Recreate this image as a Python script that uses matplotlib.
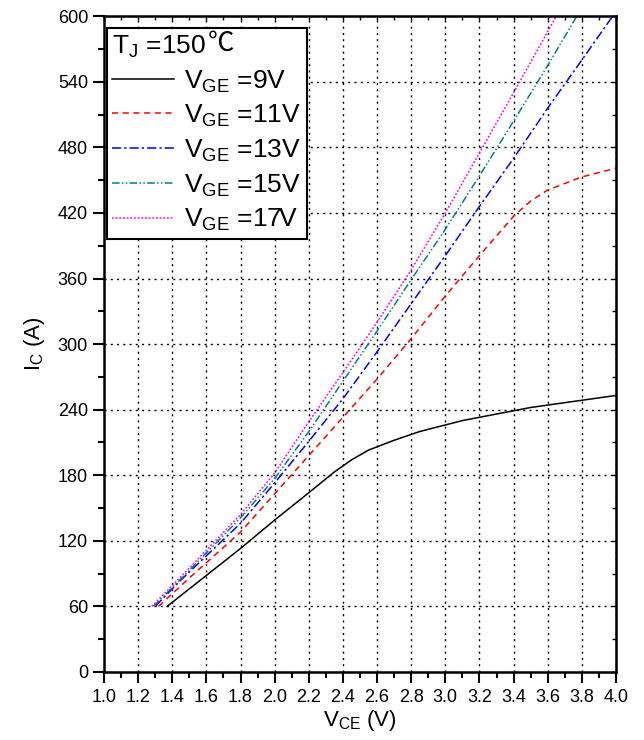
import matplotlib
matplotlib.use("Agg")
import matplotlib.pyplot as plt
from matplotlib.ticker import MultipleLocator

plt.rcParams["font.family"] = ["Liberation Sans", "DejaVu Sans"]
plt.rcParams["mathtext.fontset"] = "custom"
plt.rcParams["mathtext.rm"] = "Liberation Sans"

# output characteristics, Tj = 150 C
vce_9 = [1.37, 1.5, 1.8, 2.0, 2.2, 2.35, 2.45, 2.55, 2.7, 2.85, 3.1, 3.5, 4.0]
ic_9 = [60, 76, 113, 139, 164, 183, 194, 203, 212, 220, 230, 242, 253]

vce_11 = [1.32, 1.5, 1.8, 2.0, 2.2, 2.4, 2.6, 2.8, 3.0, 3.2, 3.4, 3.45, 3.5, 3.6, 3.8, 4.0]
ic_11 = [60, 86, 128, 163, 198, 233, 268, 305, 344, 381, 417, 424, 431, 441, 453, 461]

vce_13 = [1.30, 1.45, 1.8, 2.0, 2.2, 2.4, 2.6, 2.8, 3.0, 3.2, 3.4, 3.6, 3.8, 3.98]
ic_13 = [60, 84, 136, 173, 211, 250, 293, 337, 381, 426, 470, 516, 560, 600]

vce_15 = [1.29, 1.45, 1.8, 2.0, 2.2, 2.4, 2.6, 2.8, 3.0, 3.2, 3.4, 3.6, 3.77]
ic_15 = [60, 85, 141, 177, 220, 266, 312, 359, 405, 454, 504, 555, 600]

vce_17 = [1.28, 1.45, 1.8, 2.0, 2.2, 2.4, 2.6, 2.8, 3.0, 3.2, 3.4, 3.65]
ic_17 = [60, 87, 144, 182, 229, 274, 320, 368, 420, 475, 530, 600]

labels = [r"V$_{\mathregular{GE}}$ =9V", r"V$_{\mathregular{GE}}$ =11V",
          r"V$_{\mathregular{GE}}$ =13V", r"V$_{\mathregular{GE}}$ =15V",
          r"V$_{\mathregular{GE}}$ =17V"]

fig = plt.figure(figsize=(6.44, 7.40), dpi=100)
ax = fig.add_axes([0.1615, 0.092, 0.795, 0.886])

ax.plot(vce_9, ic_9, color="black", lw=1.1, ls="-", label=labels[0])
ax.plot(vce_11, ic_11, color="#ff0000", lw=1.1, ls=(0, (4, 3)), label=labels[1])
ax.plot(vce_13, ic_13, color="#0000ff", lw=1.1, ls=(0, (6, 2, 1.5, 2)), label=labels[2])
ax.plot(vce_15, ic_15, color="#008080", lw=1.1, ls=(0, (5, 1.5, 1, 1.5, 1, 1.5)), label=labels[3])
ax.plot(vce_17, ic_17, color="#ff00ff", lw=1.1, ls=(0, (1.2, 1.2)), label=labels[4])

ax.set_xlim(1.0, 4.0)
ax.set_ylim(0, 600)
ax.xaxis.set_major_locator(MultipleLocator(0.2))
ax.xaxis.set_minor_locator(MultipleLocator(0.1))
ax.yaxis.set_major_locator(MultipleLocator(60))
ax.yaxis.set_minor_locator(MultipleLocator(30))
ax.xaxis.set_major_formatter(plt.FuncFormatter(lambda v, p: f"{v:.1f}"))

ax.tick_params(which="major", direction="out", length=8, width=1.5, labelsize=13)
ax.tick_params(which="minor", direction="out", length=4, width=1.5)
ax.tick_params(axis="x", pad=4)

for s in ax.spines.values():
    s.set_linewidth(1.8)

top = ax.secondary_xaxis("top")
top.xaxis.set_major_locator(MultipleLocator(0.2))
top.xaxis.set_minor_locator(MultipleLocator(0.1))
top.tick_params(which="both", direction="in", labeltop=False, length=3, width=1)
right = ax.secondary_yaxis("right")
right.yaxis.set_major_locator(MultipleLocator(60))
right.yaxis.set_minor_locator(MultipleLocator(30))
right.tick_params(which="both", direction="in", labelright=False, length=3, width=1)

ax.grid(True, which="major", ls=(0, (1.5, 3)), color="black", lw=1)

ax.set_xlabel(r"V$_{\mathregular{CE}}$ (V)", fontsize=16, labelpad=2)
ax.set_ylabel(r"I$_{\mathregular{C}}$ (A)", fontsize=16, labelpad=8)

leg = ax.legend(loc="upper left", bbox_to_anchor=(0.005, 0.982), fontsize=19,
                title=r"T$_{\mathregular{J}}$ =150", title_fontsize=19,
                alignment="left", handlelength=2.35, handletextpad=0.4,
                labelspacing=0.31, borderpad=0.2, borderaxespad=0,
                fancybox=False, framealpha=1, edgecolor="black")
leg.get_frame().set_linewidth(1.5)
ax.annotate("℃", xy=(1, 0.12), xycoords=leg.get_title(), xytext=(1, 0),
            textcoords="offset points", ha="left", va="bottom", fontsize=19,
            family=["Noto Sans CJK SC", "DejaVu Sans"], zorder=10)

fig.savefig("out.png", dpi=100)
